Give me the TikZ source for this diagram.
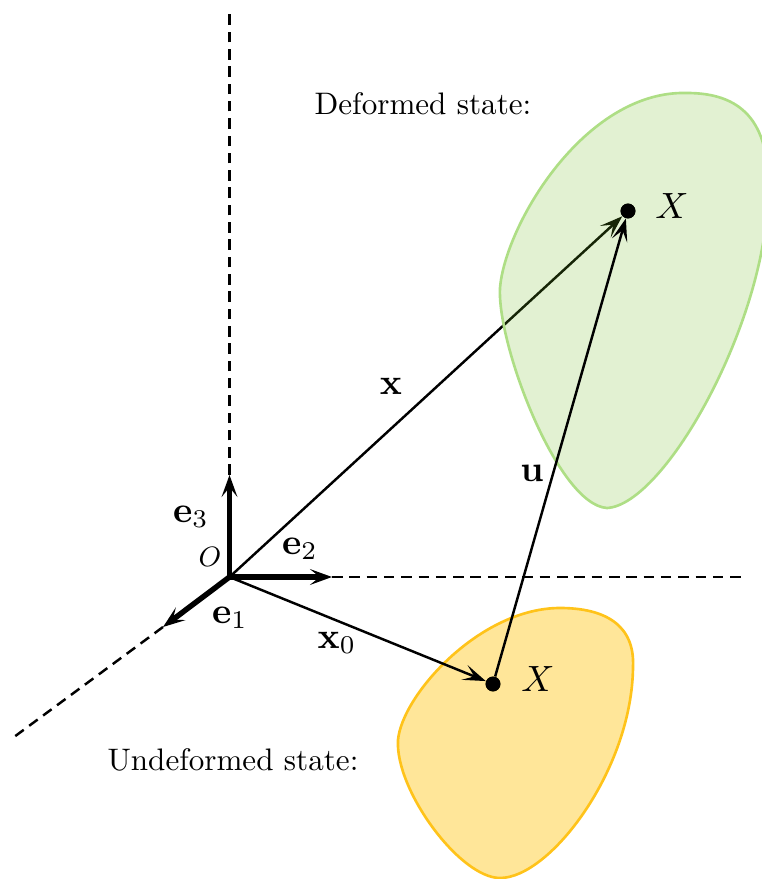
\documentclass[tikz,border=0pt]{standalone}
\usetikzlibrary{arrows.meta}
\definecolor{deformedFill}{HTML}{6EB91E}
\definecolor{deformedLine}{HTML}{AEDE85}
\definecolor{undeformedFill}{HTML}{FFC000}
\definecolor{undeformedLine}{HTML}{FFC31A}

\begin{document}
\begin{tikzpicture}[x=0.2mm,y=-0.2mm,every node/.style={inner sep=0pt}]
      \tikzstyle{vec}=[line width=1.4pt,-{Stealth[length=13pt,width=9pt,inset=6pt]}]
      \tikzstyle{basis}=[line width=3.1pt,-{Stealth[length=12.5pt,width=9pt,inset=5.5pt]}]
      \tikzstyle{axis}=[line width=1.4pt,dash pattern=on 6pt off 3.85pt]
      \tikzstyle{dot}=[circle,fill=black,minimum size=8.5pt]
      \tikzstyle{lbl}=[scale=1.77]
      \tikzstyle{mathlbl}=[scale=2.08]
      \useasboundingbox (0,0) rectangle (761,879);
      \coordinate (O) at (229.5,577);
      \coordinate (e1) at (163,627);
      \coordinate (e2) at (332,577);
      \coordinate (e3) at (229.5,475);
      \coordinate (top) at (229.5,12);
      \coordinate (right) at (742,577);
      \coordinate (left) at (14,737);
      \node[dot] (Xd) at (628,211) {};
      \node[dot] (Xu) at (493,684) {};
      \draw[vec] (O)--(Xd);
      % bodies
      \draw[draw=deformedLine,fill=deformedFill,line width=1.5pt,fill opacity=0.2]
        (500,288) .. controls (505,225) and (585,90) .. (687,93)
        .. controls (740,93) and (770,120) .. (768,190)
        .. controls (768,320) and (665,505) .. (607,508)
        .. controls (558,505) and (497,345) .. (500,288) -- cycle;
      \draw[draw=undeformedLine,fill=undeformedFill,line width=1.5pt,fill opacity=0.4]
        (398,740) .. controls (402,695) and (480,608) .. (560,608)
        .. controls (605,608) and (635,625) .. (633,667)
        .. controls (632,770) and (550,878) .. (500,878)
        .. controls (460,878) and (395,790) .. (398,740) -- cycle;
      \node[dot] at (Xd) {};
      \node[dot] at (Xu) {};
      \draw[axis] (e3)--(top);
      \draw[axis] (e2)--(right);
      \draw[axis] (e1)--(left);
      \draw[vec] (O)--(Xu);
      \draw[vec] (Xu)--(Xd);
      \draw[basis] (O)--(e1);
      \draw[basis] (O)--(e2);
      \draw[basis] (O)--(e3);
      \node[mathlbl] (lblXd) at (672,206) {$X$};
      \node[mathlbl] (lblXu) at (538,679) {$X$};
      \node[mathlbl] (lblx) at (391,386) {$\mathbf{x}$};
      \node[mathlbl] (lblu) at (532,473) {$\mathbf{u}$};
      \node[mathlbl] (lblx0) at (337,643) {$\mathbf{x}_0$};
      \node[mathlbl] (lble1) at (230,618) {$\mathbf{e}_1$};
      \node[mathlbl] (lble2) at (300,549) {$\mathbf{e}_2$};
      \node[mathlbl] (lble3) at (191,517) {$\mathbf{e}_3$};
      \node[lbl,font=\small] (lblO) at (210,557) {$O$};
      \node[lbl] (lbldef) at (423,104) {Deformed state:};
      \node[lbl] (lblund) at (233,760) {Undeformed state:};
    \end{tikzpicture}
\end{document}
